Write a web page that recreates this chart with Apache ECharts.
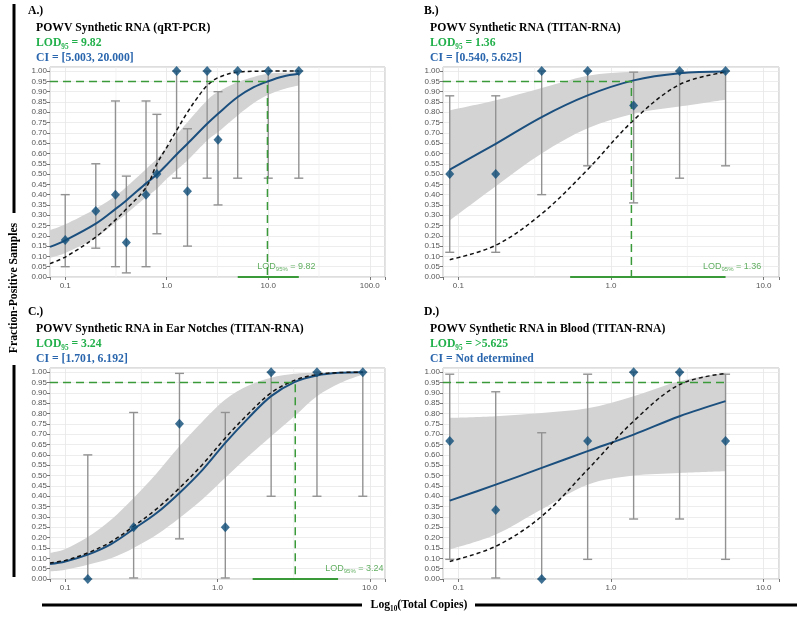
<!DOCTYPE html>
<html><head><meta charset="utf-8">
<script src="https://cdn.jsdelivr.net/npm/echarts@6/dist/echarts.min.js"></script>
<style>html,body{margin:0;padding:0;background:#fff}#c{width:798px;height:618px}</style>
</head><body><div id="c"></div>
<script>
// ---------------- Panel A : qRT-PCR ----------------
const xA   = [0.1, 0.2, 0.3125, 0.4, 0.625, 0.8, 1.25, 1.6, 2.5, 3.2, 5, 10, 20];
const yA   = [0.18, 0.32, 0.40, 0.167, 0.40, 0.50, 1.00, 0.417, 1.00, 0.667, 1.00, 1.00, 1.00];
const loA  = [0.05, 0.14, 0.05, 0.02, 0.05, 0.21, 0.48, 0.15, 0.48, 0.35, 0.48, 0.48, 0.48];
const hiA  = [0.40, 0.55, 0.855, 0.49, 0.855, 0.79, 1.00, 0.72, 1.00, 0.90, 1.00, 1.00, 1.00];
const curveXA = [0.0708, 0.1, 0.2, 0.316, 0.4, 0.63, 0.8, 1.0, 1.25, 1.6, 2.5, 3.2, 5, 7.2, 10, 14, 20];
const fitA    = [0.146, 0.178, 0.259, 0.332, 0.372, 0.456, 0.498, 0.545, 0.595, 0.647, 0.744, 0.793, 0.874, 0.922, 0.951, 0.974, 0.987];
const bandHiA = [0.227, 0.256, 0.332, 0.396, 0.437, 0.526, 0.574, 0.631, 0.690, 0.752, 0.858, 0.898, 0.947, 0.972, 0.987, 0.992, 0.995];
const bandLoA = [0.094, 0.117, 0.191, 0.267, 0.307, 0.388, 0.429, 0.477, 0.520, 0.566, 0.663, 0.704, 0.785, 0.845, 0.885, 0.912, 0.930];
const refXA   = [0.0708, 0.1, 0.2, 0.316, 0.4, 0.63, 0.8, 1.0, 1.25, 1.6, 2.0, 2.5, 3.2, 5, 10, 20];
const refA    = [0.065, 0.097, 0.194, 0.280, 0.330, 0.437, 0.550, 0.630, 0.712, 0.800, 0.870, 0.930, 0.968, 0.995, 1.0, 1.0];

// ---------------- Panel B : TITAN-RNA ----------------
const xB   = [0.0879, 0.1758, 0.3516, 0.7031, 1.40625, 2.8125, 5.625];
const yB   = [0.50, 0.50, 1.00, 1.00, 0.833, 1.00, 1.00];
const loB  = [0.12, 0.12, 0.40, 0.54, 0.36, 0.48, 0.54];
const hiB  = [0.88, 0.88, 1.00, 1.00, 0.995, 1.00, 1.00];
const curveXB = [0.0879, 0.1758, 0.3516, 0.7031, 1.40625, 2.8125, 5.625];
const fitB    = [0.521, 0.647, 0.777, 0.882, 0.955, 0.990, 0.998];
const bandHiB = [0.809, 0.858, 0.918, 0.978, 0.997, 1.000, 1.000];
const bandLoB = [0.275, 0.441, 0.600, 0.722, 0.793, 0.828, 0.861];
const refXB   = [0.0879, 0.1758, 0.3516, 0.7031, 1.40625, 2.8125, 5.625];
const refB    = [0.084, 0.154, 0.307, 0.522, 0.762, 0.935, 0.995];

// ---------------- Panel C : Ear notches ----------------
const xC   = [0.140625, 0.28125, 0.5625, 1.125, 2.25, 4.5, 9];
const yC   = [0.00, 0.25, 0.75, 0.25, 1.00, 1.00, 1.00];
const loC  = [0.00, 0.005, 0.194, 0.005, 0.40, 0.40, 0.40];
const hiC  = [0.60, 0.805, 0.994, 0.805, 1.00, 1.00, 1.00];
const curveXC = [0.0794, 0.1, 0.140625, 0.2, 0.28125, 0.4, 0.5625, 0.8, 1.125, 1.6, 2.25, 3.2, 4.5, 6.4, 9];
const fitC    = [0.073, 0.085, 0.118, 0.169, 0.242, 0.320, 0.416, 0.529, 0.658, 0.779, 0.884, 0.952, 0.984, 0.997, 1.000];
const bandHiC = [0.126, 0.145, 0.203, 0.287, 0.392, 0.513, 0.642, 0.763, 0.868, 0.935, 0.973, 0.992, 0.998, 1.000, 1.000];
const bandLoC = [0.037, 0.045, 0.069, 0.100, 0.150, 0.215, 0.295, 0.387, 0.489, 0.594, 0.690, 0.787, 0.884, 0.948, 0.989];
const refXC   = [0.0794, 0.1, 0.140625, 0.2, 0.28125, 0.4, 0.5625, 0.8, 1.125, 1.6, 2.25, 3.2, 4.5, 6.4, 9];
const refC    = [0.077, 0.090, 0.126, 0.180, 0.255, 0.340, 0.440, 0.555, 0.682, 0.800, 0.900, 0.960, 0.989, 0.998, 1.000];

// ---------------- Panel D : Blood ----------------
const xD   = [0.0879, 0.1758, 0.3516, 0.7031, 1.40625, 2.8125, 5.625];
const yD   = [0.667, 0.333, 0.00, 0.667, 1.00, 1.00, 0.667];
const loD  = [0.095, 0.005, 0.00, 0.095, 0.29, 0.29, 0.095];
const hiD  = [0.99, 0.905, 0.707, 0.99, 1.00, 1.00, 0.99];
const curveXD = [0.0879, 0.1758, 0.3516, 0.7031, 1.40625, 2.8125, 5.625];
const fitD    = [0.379, 0.456, 0.537, 0.618, 0.698, 0.787, 0.860];
const bandHiD = [0.779, 0.787, 0.803, 0.825, 0.884, 0.956, 0.997];
const bandLoD = [0.142, 0.215, 0.337, 0.456, 0.500, 0.513, 0.521];
const refXD   = [0.0879, 0.1758, 0.3516, 0.7031, 1.40625, 2.8125, 5.625];
const refD    = [0.085, 0.158, 0.303, 0.529, 0.763, 0.940, 0.994];

// ---------------- Text / LOD values ----------------
const panelTags = ['A.)', 'B.)', 'C.)', 'D.)'];
const titles = ['POWV Synthetic RNA (qRT-PCR)', 'POWV Synthetic RNA (TITAN-RNA)',
                'POWV Synthetic RNA in Ear Notches (TITAN-RNA)', 'POWV Synthetic RNA in Blood (TITAN-RNA)'];
const lodTexts = ['9.82', '1.36', '3.24', '>5.625'];
const ciTexts  = ['CI = [5.003, 20.000]', 'CI = [0.540, 5.625]', 'CI = [1.701, 6.192]', 'CI = Not determined'];
const lodValues = [9.82, 1.36, 3.24, null];
const lodLineEnd = [9.82, 1.36, 3.24, 5.625];
const ciLow  = [5.003, 0.540, 1.701, null];
const ciHigh = [20.0, 5.625, 6.192, null];
const targetLevel = 0.95;
const xTickLabelsA = ['0.1', '1.0', '10.0', '100.0'];
const xTickLabelsBCD = ['0.1', '1.0', '10.0'];
const minorBreaksA = [0.3162, 3.162, 31.62];
const minorBreaksBCD = [0.3162, 3.162];
const yTickStep = 0.05;
const yAxisLabel = 'Fraction-Positive Samples';

// ---------------- Layout ----------------
const layout = [
  {grid:{left:50, top:67, width:335, height:210}, xMin:0.0708, xMax:141.25, ticks:xTickLabelsA, minor:minorBreaksA, tagX:28, txtX:36, y0:0, lodLab:[7.8, 0.05]},
  {grid:{left:443, top:67, width:336, height:210}, xMin:0.0794, xMax:12.59, ticks:xTickLabelsBCD, minor:minorBreaksBCD, tagX:424, txtX:430, y0:0, lodLab:[4.0, 0.05]},
  {grid:{left:50, top:368, width:335, height:211}, xMin:0.0794, xMax:12.59, ticks:xTickLabelsBCD, minor:minorBreaksBCD, tagX:28, txtX:36, y0:301, lodLab:[5.1, 0.053]},
  {grid:{left:443, top:368, width:336, height:211}, xMin:0.0794, xMax:12.59, ticks:xTickLabelsBCD, minor:minorBreaksBCD, tagX:424, txtX:430, y0:301, lodLab:null}
];

const panelData = [
  {x:xA, y:yA, lo:loA, hi:hiA, cx:curveXA, fit:fitA, bh:bandHiA, bl:bandLoA, rx:refXA, ref:refA},
  {x:xB, y:yB, lo:loB, hi:hiB, cx:curveXB, fit:fitB, bh:bandHiB, bl:bandLoB, rx:refXB, ref:refB},
  {x:xC, y:yC, lo:loC, hi:hiC, cx:curveXC, fit:fitC, bh:bandHiC, bl:bandLoC, rx:refXC, ref:refC},
  {x:xD, y:yD, lo:loD, hi:hiD, cx:curveXD, fit:fitD, bh:bandHiD, bl:bandLoD, rx:refXD, ref:refD}
];

const C_BLUE = '#1b4f7e', C_PT = '#0e4c78', C_BAND = '#d3d3d3', C_ERR = '#929292';
const C_GREEN_LINE = '#3a9a3a', C_GREEN_TXT = '#22b04b', C_CI_TXT = '#2a66ad';
const SERIF = '"Liberation Serif", "Times New Roman", serif';
const SANS = '"Liberation Sans", Arial, sans-serif';

function zip(a, b) { return a.map((v, i) => [v, b[i]]); }

// smooth path through pixel points (Catmull-Rom as cubic Bezier)
function smoothSegs(pts) {
  let d = '';
  for (let k = 0; k < pts.length - 1; k++) {
    const p0 = pts[k - 1] || pts[k], p1 = pts[k], p2 = pts[k + 1], p3 = pts[k + 2] || pts[k + 1];
    const c1x = p1[0] + (p2[0] - p0[0]) / 6, c1y = p1[1] + (p2[1] - p0[1]) / 6;
    const c2x = p2[0] - (p3[0] - p1[0]) / 6, c2y = p2[1] - (p3[1] - p1[1]) / 6;
    d += ' C' + c1x + ',' + c1y + ' ' + c2x + ',' + c2y + ' ' + p2[0] + ',' + p2[1];
  }
  return d;
}

function makeBandRenderer(D) {
  return function (params, api) {
    if (params.dataIndex !== 0) return null;
    const up = D.cx.map((x, k) => api.coord([x, D.bh[k]]));
    const lw = D.cx.map((x, k) => api.coord([x, D.bl[k]])).reverse();
    const d = 'M' + up[0][0] + ',' + up[0][1] + smoothSegs(up) +
              ' L' + lw[0][0] + ',' + lw[0][1] + smoothSegs(lw) + ' Z';
    return {type: 'path', shape: {pathData: d}, style: {fill: C_BAND, stroke: null}};
  };
}

function renderMinor(params, api) {
  const cs = params.coordSys;
  const px = api.coord([api.value(0), 0.5])[0];
  return {type: 'line', shape: {x1: px, y1: cs.y, x2: px, y2: cs.y + cs.height},
          style: {stroke: '#f0f0f0', lineWidth: 0.8}};
}

function renderErr(params, api) {
  const x = api.value(0), lo = api.value(1), hi = api.value(2);
  const p1 = api.coord([x, lo]), p2 = api.coord([x, hi]);
  const w = 4.5;
  const style = {stroke: C_ERR, lineWidth: 1.4, fill: null};
  return {type: 'group', children: [
    {type: 'line', shape: {x1: p1[0], y1: p1[1], x2: p2[0], y2: p2[1]}, style: style},
    {type: 'line', shape: {x1: p1[0] - w, y1: p1[1], x2: p1[0] + w, y2: p1[1]}, style: style},
    {type: 'line', shape: {x1: p2[0] - w, y1: p2[1], x2: p2[0] + w, y2: p2[1]}, style: style}
  ]};
}

const grids = [], xAxes = [], yAxes = [], series = [], graphics = [];

layout.forEach((L, i) => {
  const D = panelData[i];
  grids.push(Object.assign({show: true, backgroundColor: '#fff', borderColor: '#bdbdbd', borderWidth: 1, containLabel: false}, L.grid));
  xAxes.push({
    type: 'log', logBase: 10, gridIndex: i, min: L.xMin, max: L.xMax,
    axisLine: {show: false},
    axisTick: {show: true, length: 3, lineStyle: {color: '#555', width: 0.8}},
    axisLabel: {fontSize: 8, color: '#555', fontFamily: SANS, margin: 5,
      formatter: function (v) {
        const hit = L.ticks.find(t => Math.abs(Math.log10(parseFloat(t)) - Math.log10(v)) < 1e-6);
        return hit || '';
      }},
    splitLine: {show: true, lineStyle: {color: '#e6e6e6', width: 0.8}}
  });
  yAxes.push({
    type: 'value', gridIndex: i, min: 0, max: 1.02, interval: yTickStep,
    axisLine: {show: false},
    axisTick: {show: true, length: 3, lineStyle: {color: '#555', width: 0.8}},
    axisLabel: {fontSize: 8, color: '#555', fontFamily: SANS, margin: 3, showMaxLabel: false,
      formatter: v => (v > 1.001 ? '' : v.toFixed(2))},
    splitLine: {show: true, lineStyle: {color: '#e9e9e9', width: 0.8}}
  });

  // minor vertical grid lines (under the band)
  series.push({
    type: 'custom', xAxisIndex: i, yAxisIndex: i, silent: true, z: 0,
    data: L.minor.map(v => [v, 0.5]), encode: {x: 0, y: 1}, renderItem: renderMinor
  });
  // confidence band
  series.push({
    type: 'custom', xAxisIndex: i, yAxisIndex: i, silent: true, z: 1,
    data: D.cx.map((x, k) => [x, D.bl[k], D.bh[k]]), encode: {x: 0, y: [1, 2]},
    renderItem: makeBandRenderer(D)
  });
  // error bars
  series.push({
    type: 'custom', xAxisIndex: i, yAxisIndex: i, silent: true, z: 3,
    data: D.x.map((v, k) => [v, D.lo[k], D.hi[k]]), renderItem: renderErr,
    encode: {x: 0, y: [1, 2]}
  });
  // fitted curve
  series.push({
    type: 'line', xAxisIndex: i, yAxisIndex: i, silent: true, z: 4,
    data: zip(D.cx, D.fit), smooth: 0.35, symbol: 'none',
    lineStyle: {color: C_BLUE, width: 2}
  });
  // reference dashed curve
  series.push({
    type: 'line', xAxisIndex: i, yAxisIndex: i, silent: true, z: 5,
    data: zip(D.rx, D.ref), smooth: 0.35, symbol: 'none',
    lineStyle: {color: '#111', width: 1.5, type: [4, 3]}
  });
  // LOD guide lines
  const gl = [[L.xMin, targetLevel], [lodLineEnd[i], targetLevel]];
  if (lodValues[i] != null) gl.push([lodValues[i], 0]);
  series.push({
    type: 'line', xAxisIndex: i, yAxisIndex: i, silent: true, z: 6, clip: false,
    data: gl, symbol: 'none', lineStyle: {color: C_GREEN_LINE, width: 1.5, type: [8, 5]}
  });
  if (ciLow[i] != null) {
    series.push({
      type: 'line', xAxisIndex: i, yAxisIndex: i, silent: true, z: 6, clip: false,
      data: [[ciLow[i], 0], [ciHigh[i], 0]], symbol: 'none', lineStyle: {color: C_GREEN_LINE, width: 2.2}
    });
  }
  // points
  series.push({
    type: 'scatter', xAxisIndex: i, yAxisIndex: i, silent: true, z: 7, clip: false,
    data: zip(D.x, D.y), symbol: 'diamond', symbolSize: [9, 10], itemStyle: {color: C_PT}
  });
  // LOD label inside plot
  if (L.lodLab) {
    series.push({
      type: 'scatter', xAxisIndex: i, yAxisIndex: i, silent: true, z: 8, clip: false,
      data: [L.lodLab], symbolSize: 0,
      label: {show: true, position: 'right', distance: 0,
        formatter: '{a|LOD}{b|95%}{a| = ' + lodTexts[i] + '}',
        rich: {a: {fontSize: 9, color: C_GREEN_LINE, fontFamily: SANS, lineHeight: 12},
               b: {fontSize: 6, color: C_GREEN_LINE, fontFamily: SANS, lineHeight: 6, verticalAlign: 'bottom'}}}
    });
  }

  // headers
  const sx = 0.9;
  graphics.push({type: 'text', x: L.tagX, y: L.y0 + 11, scaleX: sx,
    style: {text: panelTags[i], font: 'bold 13px ' + SERIF, fill: '#000', verticalAlign: 'middle'}});
  graphics.push({type: 'text', x: L.txtX, y: L.y0 + 28, scaleX: sx,
    style: {text: titles[i], font: 'bold 13px ' + SERIF, fill: '#000', verticalAlign: 'middle'}});
  graphics.push({type: 'text', x: L.txtX, y: L.y0 + 43, scaleX: sx,
    style: {text: '{a|LOD}{b|95}{a| = ' + lodTexts[i] + '}', verticalAlign: 'middle',
      rich: {a: {font: 'bold 13px ' + SERIF, fill: C_GREEN_TXT, lineHeight: 15},
             b: {font: 'bold 8px ' + SERIF, fill: C_GREEN_TXT, lineHeight: 7, verticalAlign: 'bottom'}}}});
  graphics.push({type: 'text', x: L.txtX, y: L.y0 + 58, scaleX: sx,
    style: {text: ciTexts[i], font: 'bold 13px ' + SERIF, fill: C_CI_TXT, verticalAlign: 'middle'}});
});

// shared axis titles and bars
graphics.push({type: 'text', x: 14, y: 288, rotation: Math.PI / 2, scaleX: 0.9,
  style: {text: yAxisLabel, font: 'bold 13px ' + SERIF, fill: '#000', align: 'center', verticalAlign: 'middle'}});
graphics.push({type: 'line', shape: {x1: 14, y1: 4, x2: 14, y2: 213}, style: {stroke: '#000', lineWidth: 3}});
graphics.push({type: 'line', shape: {x1: 14, y1: 365, x2: 14, y2: 577}, style: {stroke: '#000', lineWidth: 3}});
graphics.push({type: 'text', x: 419, y: 605, scaleX: 0.9,
  style: {text: '{a|Log}{b|10}{a|(Total Copies)}', align: 'center', verticalAlign: 'middle',
    rich: {a: {font: 'bold 13px ' + SERIF, fill: '#000', lineHeight: 15},
           b: {font: 'bold 8px ' + SERIF, fill: '#000', lineHeight: 7, verticalAlign: 'bottom'}}}});
graphics.push({type: 'line', shape: {x1: 42, y1: 605, x2: 362, y2: 605}, style: {stroke: '#000', lineWidth: 3}});
graphics.push({type: 'line', shape: {x1: 475, y1: 605, x2: 797, y2: 605}, style: {stroke: '#000', lineWidth: 3}});

const chart = echarts.init(document.getElementById('c'), null, {renderer: 'canvas'});
chart.setOption({
  animation: false,
  backgroundColor: '#fff',
  grid: grids, xAxis: xAxes, yAxis: yAxes, series: series, graphic: graphics
});
</script></body></html>
